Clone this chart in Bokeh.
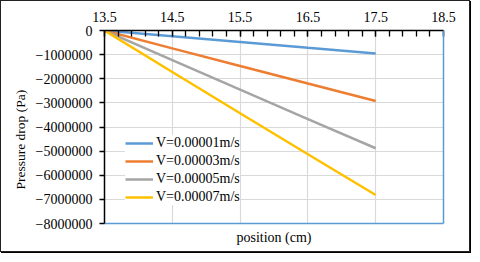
from bokeh.plotting import figure
from bokeh.models import (LinearAxis, FixedTicker, Range1d, BasicTickFormatter,
                          Legend, Title)
from bokeh.embed import file_html
from bokeh.resources import INLINE

# ---- data ----
position = [13.5, 14.5, 15.5, 16.5, 17.5]
v1 = [0, -240000, -480000, -720000, -950000]
v3 = [0, -740000, -1470000, -2200000, -2920000]
v5 = [0, -1230000, -2450000, -3670000, -4880000]
v7 = [0, -1720000, -3430000, -5130000, -6820000]
series_labels = ["V=0.00001m/s", "V=0.00003m/s", "V=0.00005m/s", "V=0.00007m/s"]
series_colors = ["#5B9BD5", "#ED7D31", "#A5A5A5", "#FFC000"]
x_ticks = [13.5, 14.5, 15.5, 16.5, 17.5, 18.5]
x_minor = [round(13.5 + 0.2 * i, 1) for i in range(26)]
y_ticks = [0, -1000000, -2000000, -3000000, -4000000, -5000000, -6000000, -7000000, -8000000]
x_label = "position (cm)"
y_label = "Pressure drop (Pa)"

FONT = "Liberation Serif"

p = figure(width=470, height=252, output_backend="svg", toolbar_location=None,
           x_range=Range1d(13.5, 18.5), y_range=Range1d(-8000000, 0),
           x_axis_location="above",
           min_border_left=103, min_border_right=28,
           min_border_top=29, min_border_bottom=30)
p.styles = {"border": "1px solid #222", "box-shadow": "1px 1px 0 #000"}
p.outline_line_color = None
p.background_fill_color = "white"
p.border_fill_color = "white"

# top x axis
xa = p.xaxis[0]
xa.ticker = FixedTicker(ticks=x_ticks, minor_ticks=x_minor)
xa.major_tick_in = 6
xa.major_tick_out = 0
xa.minor_tick_in = 6
xa.minor_tick_out = 0
xa.major_tick_line_color = "black"
xa.minor_tick_line_color = "black"
xa.major_tick_line_width = 1.3
xa.minor_tick_line_width = 1.3
xa.axis_line_color = "black"
xa.axis_line_width = 1.5
xa.major_label_standoff = 9
xa.major_label_text_font = FONT
xa.major_label_text_font_size = "14px"
xa.major_label_text_color = "black"

# left y axis
ya = p.yaxis[0]
ya.ticker = FixedTicker(ticks=y_ticks)
ya.formatter = BasicTickFormatter(use_scientific=False)
ya.major_tick_out = 5
ya.major_tick_in = 0
ya.minor_tick_line_color = None
ya.axis_line_color = "black"
ya.axis_line_width = 1.5
ya.major_tick_line_color = "black"
ya.major_tick_line_width = 1.3
ya.major_label_standoff = 7
ya.major_label_text_font = FONT
ya.major_label_text_font_size = "14px"
ya.major_label_text_color = "black"

# y axis title as a left-side Title (sits below centre, as in the original)
ytitle = Title(text=y_label, align="left", offset=34, standoff=9,
               text_font=FONT, text_font_size="13.5px", text_font_style="normal",
               text_color="black")
p.add_layout(ytitle, "left")

# bottom axis (blue line, label only)
bottom = LinearAxis(ticker=FixedTicker(ticks=[]), axis_line_color="#5B9BD5",
                    axis_line_width=1.5, major_tick_line_color=None,
                    minor_tick_line_color=None, major_label_standoff=0,
                    axis_label=x_label, axis_label_standoff=6,
                    axis_label_text_font=FONT, axis_label_text_font_size="14px",
                    axis_label_text_font_style="normal", axis_label_text_color="black")
p.add_layout(bottom, "below")

right = LinearAxis(ticker=FixedTicker(ticks=[]), axis_line_color="#5B9BD5",
                   axis_line_width=1.5, major_tick_line_color=None,
                   minor_tick_line_color=None, major_label_standoff=0)
p.add_layout(right, "right")

# grid
p.xgrid.ticker = FixedTicker(ticks=x_ticks)
p.ygrid.ticker = FixedTicker(ticks=y_ticks)
p.xgrid.grid_line_color = "#D9D9D9"
p.ygrid.grid_line_color = "#D9D9D9"
p.xgrid.grid_line_width = 1.2
p.ygrid.grid_line_width = 1.2

renderers = []
for ys, col in zip([v1, v3, v5, v7], series_colors):
    r = p.line(position, ys, line_color=col, line_width=2.5)
    renderers.append(r)

legend = Legend(items=[(lab, [r]) for lab, r in zip(series_labels, renderers)],
                location=(21, 18), padding=2, spacing=2, margin=0,
                glyph_width=28, glyph_height=16, label_height=16, label_standoff=3,
                border_line_color=None, background_fill_color="white",
                background_fill_alpha=1.0,
                label_text_font=FONT, label_text_font_size="14px",
                label_text_color="black")
p.add_layout(legend, "center")

open("out.html", "w").write(file_html(p, INLINE))
